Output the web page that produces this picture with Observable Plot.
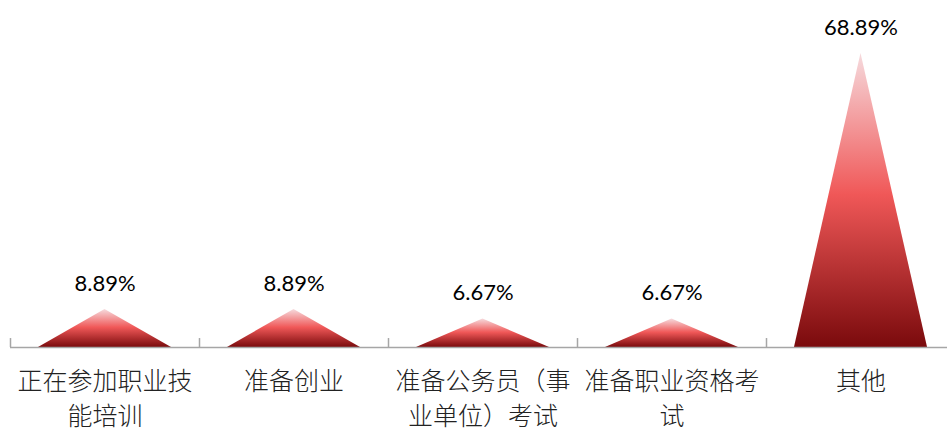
<!DOCTYPE html>
<html><head><meta charset="utf-8">
<script src="https://cdn.jsdelivr.net/npm/d3@7"></script>
<script src="https://cdn.jsdelivr.net/npm/@observablehq/plot@0.6"></script>
<style>body{margin:0;background:#fff;}</style>
</head><body><div id="chart"></div>
<script>
const categories = ["正在参加职业技\n能培训", "准备创业", "准备公务员（事\n业单位）考试", "准备职业资格考\n试", "其他"];
const values = [8.89, 8.89, 6.67, 6.67, 68.89];
const valueLabels = ["8.89%", "8.89%", "6.67%", "6.67%", "68.89%"];

const half = 0.352;
const tri = [];
categories.forEach((c, i) => {
  tri.push({cat: c, x: i + 0.5 - half, y: 0});
  tri.push({cat: c, x: i + 0.5, y: values[i]});
  tri.push({cat: c, x: i + 0.5 + half, y: 0});
});
const labels = categories.map((c, i) => ({x: i + 0.5, c, v: values[i], t: valueLabels[i]}));
const boundaries = categories.map((c, i) => i);

const chart = Plot.plot({
  width: 947, height: 430,
  marginLeft: 10, marginRight: 0, marginTop: 0, marginBottom: 0,
  x: {domain: [0, 5], range: [10, 955], axis: null},
  y: {domain: [0, 80], range: [347, 5.6], axis: null},
  marks: [
    Plot.areaY(tri, {x: "x", y: "y", z: "cat", fill: "url(#redgrad)", curve: "linear"}),
    Plot.ruleY([0], {stroke: "#a6a6a6", strokeWidth: 1.5}),
    Plot.ruleX(boundaries, {x: d => d, y1: 0, y2: 2.1, stroke: "#a6a6a6", strokeWidth: 1.5}),
    Plot.text(labels, {x: "x", y: "v", text: "t", dy: -26, fontSize: 22, fontFamily: "Lato, 'Open Sans', sans-serif", fill: "#000"}),
    Plot.text(labels, {x: "x", y: 0, text: "c", dy: 18, lineAnchor: "top", lineHeight: 1.4, fontSize: 25, fontFamily: "'Noto Sans CJK SC', sans-serif", fontWeight: 300, fill: "#222"})
  ]
});
const svg = d3.select(chart);
const defs = svg.insert("defs", ":first-child");
const g = defs.append("linearGradient").attr("id", "redgrad").attr("x1", 0).attr("y1", 0).attr("x2", 0).attr("y2", 1);
g.append("stop").attr("offset", "0%").attr("stop-color", "#f6dadd");
g.append("stop").attr("offset", "48%").attr("stop-color", "#f05858");
g.append("stop").attr("offset", "100%").attr("stop-color", "#7a0a0c");
document.getElementById("chart").appendChild(chart);
</script>
</body></html>
